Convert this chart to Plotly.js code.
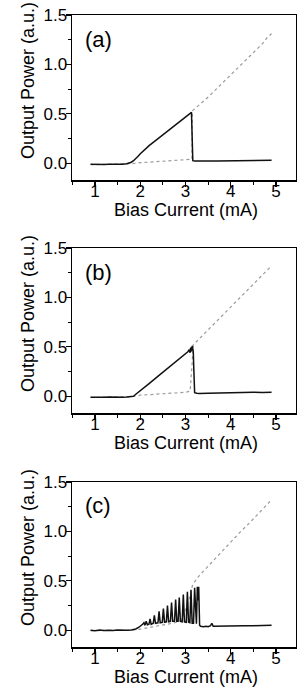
<!DOCTYPE html>
<html>
<head>
<meta charset="utf-8">
<script src="https://cdn.plot.ly/plotly-3.0.1.min.js"></script>
<style>html,body{margin:0;padding:0;background:#fff;}#chart{width:297px;height:690px;}</style>
</head>
<body>
<div id="chart"></div>
<script>
// ---------- Panel (a) ----------
const aSolidX = [0.9,1.0,1.1,1.2,1.3,1.4,1.5,1.6,1.7,1.75,1.8,1.85,1.9,1.95,2.0,2.1,2.2,2.3,2.4,2.5,2.6,2.7,2.8,2.9,3.0,3.05,3.1,3.13,3.14,3.15,3.16,3.2,3.3,3.5,3.7,3.9,4.1,4.3,4.5,4.7,4.9];
const aSolidY = [-0.01,-0.012,-0.008,-0.013,-0.01,-0.012,-0.009,-0.011,-0.006,0.0,0.01,0.025,0.045,0.07,0.095,0.14,0.18,0.215,0.25,0.285,0.32,0.355,0.39,0.425,0.46,0.48,0.5,0.515,0.35,0.1,0.025,0.022,0.02,0.022,0.023,0.025,0.024,0.026,0.027,0.028,0.03];
const aDotX = [0.9,1.2,1.5,1.8,2.0,2.2,2.4,2.6,2.8,3.0,3.1,3.14,3.15,3.3,3.5,3.7,3.9,4.1,4.3,4.5,4.7,4.8,4.9];
const aDotY = [-0.015,-0.012,-0.01,-0.005,0.005,0.01,0.015,0.02,0.025,0.03,0.035,0.04,0.53,0.59,0.67,0.76,0.85,0.94,1.03,1.12,1.21,1.27,1.31];

// ---------- Panel (b) ----------
const bSolidX = [0.9,1.0,1.1,1.2,1.3,1.4,1.5,1.6,1.7,1.8,1.85,1.9,2.0,2.2,2.4,2.6,2.8,2.9,3.0,3.05,3.08,3.1,3.11,3.12,3.13,3.14,3.15,3.16,3.17,3.18,3.19,3.2,3.25,3.3,3.5,3.7,3.9,4.1,4.3,4.5,4.7,4.9];
const bSolidY = [-0.01,-0.012,-0.008,-0.01,-0.009,-0.011,-0.008,-0.01,-0.007,-0.005,0.0,0.02,0.055,0.13,0.205,0.28,0.355,0.39,0.43,0.45,0.47,0.44,0.49,0.45,0.5,0.46,0.51,0.48,0.45,0.3,0.1,0.035,0.03,0.028,0.03,0.033,0.032,0.035,0.036,0.04,0.038,0.04];
const bDotX = [0.9,1.2,1.5,1.8,2.0,2.2,2.4,2.6,2.8,3.0,3.1,3.12,3.14,3.16,3.17,3.3,3.5,3.7,3.9,4.1,4.3,4.5,4.7,4.9];
const bDotY = [-0.012,-0.01,-0.01,-0.005,0.01,0.015,0.02,0.025,0.03,0.04,0.05,0.15,0.3,0.45,0.52,0.58,0.672,0.765,0.857,0.95,1.042,1.135,1.227,1.32];

// ---------- Panel (c) ----------
const cSolidX = [0.9,1.0,1.1,1.2,1.3,1.4,1.5,1.6,1.7,1.8,1.9,1.97,2.02,2.05,2.08,2.1,
  2.105,2.13,2.155, 2.19,2.215,2.24, 2.285,2.31,2.335, 2.389,2.414,2.439, 2.485,2.51,2.535,
  2.575,2.6,2.625, 2.665,2.69,2.715, 2.755,2.78,2.805, 2.835,2.86,2.885, 2.925,2.95,2.975,
  3.015,3.04,3.065, 3.095,3.12,3.145, 3.175,3.2,3.225, 3.24,3.26,3.275,3.29,3.31,
  3.33,3.4,3.45,3.5,3.55,3.58,3.61,3.65,3.7,3.9,4.1,4.3,4.5,4.7,4.9];
const cSolidY = [0.0,-0.005,0.002,-0.003,0.0,-0.004,0.001,-0.002,0.0,0.003,0.012,0.03,0.045,0.06,0.075,0.05,
  0.055,0.09,0.055, 0.06,0.115,0.06, 0.07,0.15,0.07, 0.075,0.19,0.075, 0.08,0.22,0.08,
  0.085,0.25,0.085, 0.09,0.28,0.09, 0.09,0.31,0.09, 0.09,0.33,0.09, 0.085,0.36,0.085,
  0.08,0.39,0.08, 0.075,0.41,0.07, 0.07,0.43,0.065, 0.065,0.44,0.3,0.44,0.05,
  0.04,0.035,0.04,0.035,0.045,0.07,0.04,0.04,0.038,0.04,0.042,0.044,0.046,0.048,0.05];
const cDotX = [0.9,1.2,1.5,1.8,2.0,2.2,2.4,2.6,2.8,2.9,3.0,3.1,3.15,3.2,3.28,3.4,3.6,3.8,4.0,4.2,4.4,4.6,4.8,4.9];
const cDotY = [-0.005,-0.005,0.0,0.0,0.01,0.03,0.045,0.06,0.08,0.1,0.2,0.35,0.45,0.49,0.54,0.6,0.7,0.79,0.89,0.99,1.08,1.18,1.27,1.32];

const panelLabels = ['(a)','(b)','(c)'];
const xTitle = 'Bias Current (mA)';
const yTitle = 'Output Power (a.u.)';

const H = 690, W = 297;
const FONT = 'Liberation Sans, Arial, sans-serif';
const panels = [
  {sx:aSolidX, sy:aSolidY, dx:aDotX, dy:aDotY, top:15, bot:180},
  {sx:bSolidX, sy:bSolidY, dx:bDotX, dy:bDotY, top:248, bot:413},
  {sx:cSolidX, sy:cSolidY, dx:cDotX, dy:cDotY, top:482, bot:647}
];

const data = [];
const layout = {
  width: W, height: H,
  margin: {l:0, r:0, t:0, b:0},
  paper_bgcolor: '#fff', plot_bgcolor: '#fff',
  showlegend: false,
  font: {family: FONT, size: 17, color: '#000'},
  annotations: []
};

panels.forEach((p, i) => {
  const n = i === 0 ? '' : String(i + 1);
  data.push({x: p.dx, y: p.dy, xaxis: 'x' + n, yaxis: 'y' + n, mode: 'lines',
    line: {color: '#9a9a9a', width: 1.2, dash: 'dot'}, hoverinfo: 'skip'});
  data.push({x: p.sx, y: p.sy, xaxis: 'x' + n, yaxis: 'y' + n, mode: 'lines',
    line: {color: '#111', width: 1.5}, hoverinfo: 'skip'});
  const common = {showline: true, mirror: true, linecolor: '#000', linewidth: 1.5,
    ticks: 'outside', ticklen: 5, tickwidth: 1.2, tickcolor: '#000',
    showgrid: false, zeroline: false, tickfont: {family: FONT, size: 17, color: '#000'}};
  layout['xaxis' + n] = Object.assign({}, common, {
    domain: [72 / W, 296 / W], range: [0.49, 5.44], anchor: 'y' + n,
    tickmode: 'linear', tick0: 1, dtick: 1, ticklabelstandoff: -10,
    minor: {dtick: 0.5, ticklen: 3, tickwidth: 1, tickcolor: '#000', ticks: 'outside'}
  });
  layout['yaxis' + n] = Object.assign({}, common, {
    domain: [1 - p.bot / H, 1 - p.top / H], range: [-0.17, 1.5], anchor: 'x' + n,
    tickmode: 'linear', tick0: 0, dtick: 0.5, tickformat: '.1f', ticklabelstandoff: -5,
    minor: {dtick: 0.25, ticklen: 3, tickwidth: 1, tickcolor: '#000', ticks: 'outside'}
  });
  layout.annotations.push({text: panelLabels[i], xref: 'paper', yref: 'paper',
    x: 98 / W, y: 1 - (p.top + 24) / H, xanchor: 'center', yanchor: 'middle',
    showarrow: false, font: {family: FONT, size: 22, color: '#000'}});
  layout.annotations.push({text: yTitle, xref: 'paper', yref: 'paper', textangle: -90,
    x: 28 / W, y: 1 - (p.top + 66) / H, xanchor: 'center', yanchor: 'middle',
    showarrow: false, font: {family: FONT, size: 18, color: '#000'}});
  layout.annotations.push({text: xTitle, xref: 'paper', yref: 'paper',
    x: 186 / W, y: 1 - (p.bot + 30) / H, xanchor: 'center', yanchor: 'middle',
    showarrow: false, font: {family: FONT, size: 18, color: '#000'}});
});

Plotly.newPlot('chart', data, layout, {staticPlot: true, displayModeBar: false});
</script>
</body>
</html>
